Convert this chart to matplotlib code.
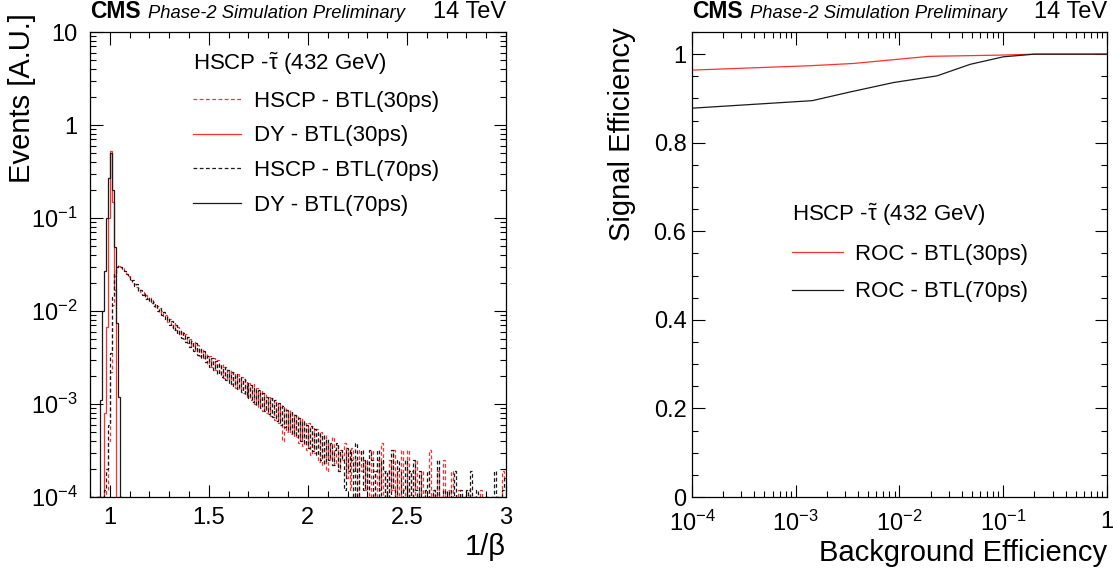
import numpy as np
import matplotlib
matplotlib.use("Agg")
import matplotlib.pyplot as plt
from matplotlib.ticker import MultipleLocator, LogLocator, NullFormatter
from matplotlib.lines import Line2D

plt.rcParams['font.family'] = ['Liberation Sans', 'DejaVu Sans']
plt.rcParams['mathtext.fontset'] = 'custom'
plt.rcParams['mathtext.rm'] = 'Liberation Sans'
plt.rcParams['mathtext.it'] = 'Liberation Sans:italic'
plt.rcParams['mathtext.bf'] = 'Liberation Sans:bold'

# ---------------- data ----------------
# 1/beta histograms, 0.01 wide bins starting at 0.90 (values in units of 1e-4)
beta_first_edge = 0.90
beta_bin_width = 0.01

hscp_30ps = [
    0, 0, 0, 0, 0, 0, 0, 0, 1.2, 4,
    22, 115, 240, 296, 310, 300, 288, 266, 252, 236,
    214, 204, 196, 182, 176, 160, 162, 146, 150, 134,
    140, 122, 126, 108, 114, 96, 100, 88, 90, 76,
    82, 68, 74, 62, 67, 55, 61, 50, 57, 45,
    50, 41, 47, 36, 43, 33, 39, 31, 35, 27,
    33, 25, 31, 23, 30, 21, 27, 19, 25, 18,
    23.5, 16.5, 22, 15, 21, 14, 19.5, 13, 18, 12,
    17, 11, 16.5, 10, 15, 9.2, 14, 8.5, 13, 8,
    12, 7.4, 11.5, 6.8, 10.5, 6.2, 10, 4, 9.2, 5,
    8.6, 4.8, 8, 4.4, 7.6, 3.8, 7, 3.5, 6.4, 3.2,
    6.2, 2.8, 5.8, 3, 5.4, 2.4, 5, 2.2, 4.6, 1.9,
    3.8, 2.5, 4.4, 2.2, 3.6, 1.9, 3.2, 2.5, 3.8, 1.6,
    3.2, 1.2, 3.4, 1.9, 2.5, 0.6, 3.2, 1.9, 2.5, 1.2,
    2.5, 0, 3.2, 1.9, 0.6, 2.5, 1.2, 3.8, 0.6, 1.9,
    0, 2.5, 1.2, 3.2, 0.6, 1.9, 0, 3.2, 1.2, 0,
    3.2, 0.6, 1.9, 0, 2.5, 1.2, 0, 1.9, 0.6, 1.2,
    0, 3.2, 0.6, 1.2, 0, 1.9, 0, 0.6, 2.5, 0,
    1.2, 0, 1.9, 0, 0.6, 0, 1.2, 0, 0, 0.6,
    0, 1.2, 0, 0, 0.6, 0, 0, 1.2, 0, 0,
    0, 0, 0.6, 0, 0, 0, 0, 0, 1.9, 1.6,
]
hscp_70ps = [
    0, 0, 0, 0, 0, 0, 0, 1.2, 2, 6,
    35, 140, 255, 300, 304, 296, 282, 270, 248, 232,
    208, 214, 186, 194, 166, 170, 150, 158, 136, 142,
    126, 134, 112, 118, 100, 108, 90, 97, 80, 86,
    70, 78, 62, 71, 56, 62, 51, 58, 46, 53,
    41, 48, 37, 45, 34, 40, 31, 37, 28, 33,
    25, 31, 23, 29, 21, 27, 19.5, 25, 18, 23,
    16.5, 22, 15.5, 21, 14.5, 19.5, 13.5, 18.5, 12.5, 17,
    11.5, 16, 10.5, 15, 9.8, 14, 9, 13, 8.4, 12,
    7.8, 11.5, 7.2, 11, 6.6, 10.2, 6, 9.6, 5.6, 8.6,
    5.2, 8.2, 4.8, 7.6, 4.4, 7, 4, 6.6, 3.7, 6,
    3.4, 5.8, 3.1, 5.4, 2.8, 5, 2.5, 4.6, 2.3, 4.2,
    2.5, 3.8, 2.2, 3.2, 3.8, 1.9, 3.2, 2.5, 1.2, 3.4,
    1.9, 3.2, 2.5, 0.6, 3.8, 0, 2.5, 3.2, 1.2, 2.5,
    1.2, 3.2, 2.5, 0.6, 1.9, 3.2, 0, 2.5, 1.9, 0.6,
    1.9, 0, 3.2, 1.2, 0.6, 2.5, 1.9, 0, 1.2, 2.5,
    0.6, 1.9, 0, 2.5, 1.2, 0, 1.9, 0.6, 0, 1.2,
    1.9, 0, 0.6, 1.2, 0, 2.5, 0.6, 0, 1.2, 0,
    0, 1.2, 0, 0.6, 1.9, 0, 0, 1.2, 0, 0.6,
    1.2, 0, 1.9, 0, 0, 1.2, 0.6, 0, 0, 0,
    0, 0.6, 0, 0, 1.9, 0, 0, 0, 1.2, 1.6,
]
# Drell-Yan muons: narrow peak at 1/beta = 1, 0.01 wide bins starting at 0.94
dy_first_edge = 0.94
dy_30ps = [0, 0, 0, 8, 68, 1000, 5200, 1500, 170, 0, 0, 0]
dy_70ps = [0, 11, 100, 270, 1000, 2700, 5000, 2000, 490, 74, 12, 0]

# ROC curves
bkg_eff_30ps = [1e-4, 1.4e-3, 3.6e-3, 1.9e-2, 1.0e-1, 2.0e-1, 1.0]
sig_eff_30ps = [0.964, 0.974, 0.979, 0.995, 0.998, 1.0, 1.0]
bkg_eff_70ps = [1e-4, 1.44e-3, 3.4e-3, 8.8e-3, 2.3e-2, 4.8e-2, 1.0e-1, 2.0e-1, 1.0]
sig_eff_70ps = [0.878, 0.895, 0.915, 0.936, 0.951, 0.977, 0.994, 1.0, 1.0]

left_yticks = [1e-4, 1e-3, 1e-2, 1e-1, 1, 10]
left_yticklabels = [r'$10^{-4}$', r'$10^{-3}$', r'$10^{-2}$', r'$10^{-1}$', '1', '10']
left_xticks = [1, 1.5, 2, 2.5, 3]
left_xticklabels = ['1', '1.5', '2', '2.5', '3']
right_xticks = [1e-4, 1e-3, 1e-2, 1e-1, 1]
right_xticklabels = [r'$10^{-4}$', r'$10^{-3}$', r'$10^{-2}$', r'$10^{-1}$', '1']
right_yticks = [0, 0.2, 0.4, 0.6, 0.8, 1.0]
right_yticklabels = ['0', '0.2', '0.4', '0.6', '0.8', '1']

header = r'HSCP -$\tilde{\mathrm{\tau}}$ (432 GeV)'
RED = '#ff3030'
BLK = '#1a1a1a'
DASH = (0, (3, 2))


def edges_for(values, first_edge, width):
    return first_edge + width * np.arange(len(values) + 1)


def cms_label(ax):
    ax.text(0.0, 1.03, 'CMS', transform=ax.transAxes, fontsize=16.5,
            fontweight='bold', ha='left', va='baseline')
    ax.text(0.139, 1.03, 'Phase-2 Simulation Preliminary', transform=ax.transAxes,
            fontsize=13.2, style='italic', ha='left', va='baseline')
    ax.text(1.0, 1.03, '14 TeV', transform=ax.transAxes, fontsize=17,
            ha='right', va='baseline')


def root_ticks(ax):
    ax.tick_params(which='both', direction='in', top=True, right=True,
                   width=0.8, labelsize=17)
    ax.tick_params(which='major', length=9)
    ax.tick_params(which='minor', length=4.5)
    for sp in ax.spines.values():
        sp.set_linewidth(0.9)


fig = plt.figure(figsize=(11.17, 5.77), dpi=100)
axL = fig.add_axes([0.0806, 0.1386, 0.3724, 0.8059])
axR = fig.add_axes([0.6195, 0.1386, 0.3715, 0.8059])

# ---------------- left: 1/beta ----------------
floor = 1e-4
series = [
    (hscp_30ps, beta_first_edge, RED, DASH),
    (dy_30ps, dy_first_edge, RED, '-'),
    (hscp_70ps, beta_first_edge, BLK, DASH),
    (dy_70ps, dy_first_edge, BLK, '-'),
]
for vals, first, color, ls in series:
    v = np.clip(np.array(vals) * 1e-4, floor, None)
    axL.stairs(v, edges_for(vals, first, beta_bin_width), baseline=None,
               color=color, linestyle=ls, linewidth=0.9)

axL.set_yscale('log')
axL.set_xlim(0.9, 3.0)
axL.set_ylim(1e-4, 10)
axL.set_yticks(left_yticks, left_yticklabels)
axL.yaxis.set_minor_locator(LogLocator(base=10, subs=np.arange(2, 10)))
axL.yaxis.set_minor_formatter(NullFormatter())
axL.set_xticks(left_xticks, left_xticklabels)
axL.xaxis.set_minor_locator(MultipleLocator(0.1))
root_ticks(axL)
axL.tick_params(axis='x', pad=7)
axL.tick_params(axis='y', pad=9)
cms_label(axL)

labelsL = ['HSCP - BTL(30ps)', 'DY - BTL(30ps)', 'HSCP - BTL(70ps)', 'DY - BTL(70ps)']
handlesL = [Line2D([], [], color=c, ls=ls, lw=0.9) for _, _, c, ls in series]
axL.legend(handlesL, labelsL, title=header, loc='upper left',
           bbox_to_anchor=(0.247, 0.960), frameon=False, fontsize=16,
           title_fontsize=16, alignment='left', handlelength=2.15,
           handletextpad=0.6, labelspacing=0.62, borderpad=0,
           borderaxespad=0)

fig.text(22 / 1117, 1 - 13 / 577, 'Events [A.U.]', rotation=90, fontsize=21,
         ha='center', va='top')
fig.text(506 / 1117, 1 - 547 / 577, '1/β', fontsize=21, ha='right', va='center')

# ---------------- right: ROC ----------------
axR.plot(bkg_eff_30ps, sig_eff_30ps, color=RED, lw=0.9, label='ROC - BTL(30ps)')
axR.plot(bkg_eff_70ps, sig_eff_70ps, color=BLK, lw=0.9, label='ROC - BTL(70ps)')
axR.set_xscale('log')
axR.set_xlim(1e-4, 1)
axR.set_ylim(0, 1.05)
axR.set_xticks(right_xticks, right_xticklabels)
axR.xaxis.set_minor_locator(LogLocator(base=10, subs=np.arange(2, 10)))
axR.xaxis.set_minor_formatter(NullFormatter())
axR.set_yticks(right_yticks, right_yticklabels)
axR.yaxis.set_minor_locator(MultipleLocator(0.05))
root_ticks(axR)
axR.tick_params(axis='x', pad=10)
axR.tick_params(axis='y', pad=4)
cms_label(axR)

axR.legend(title=header, loc='upper left', bbox_to_anchor=(0.24, 0.636),
           frameon=False, fontsize=16, title_fontsize=16, alignment='left',
           handlelength=2.3, handletextpad=0.55, labelspacing=0.74,
           borderpad=0, borderaxespad=0)

fig.text(622 / 1117, 1 - 27 / 577, 'Signal Efficiency', rotation=90, fontsize=21,
         ha='center', va='top')
fig.text(1107 / 1117, 1 - 553 / 577, 'Background Efficiency', fontsize=21,
         ha='right', va='center')

fig.savefig('out.png', dpi=100)
